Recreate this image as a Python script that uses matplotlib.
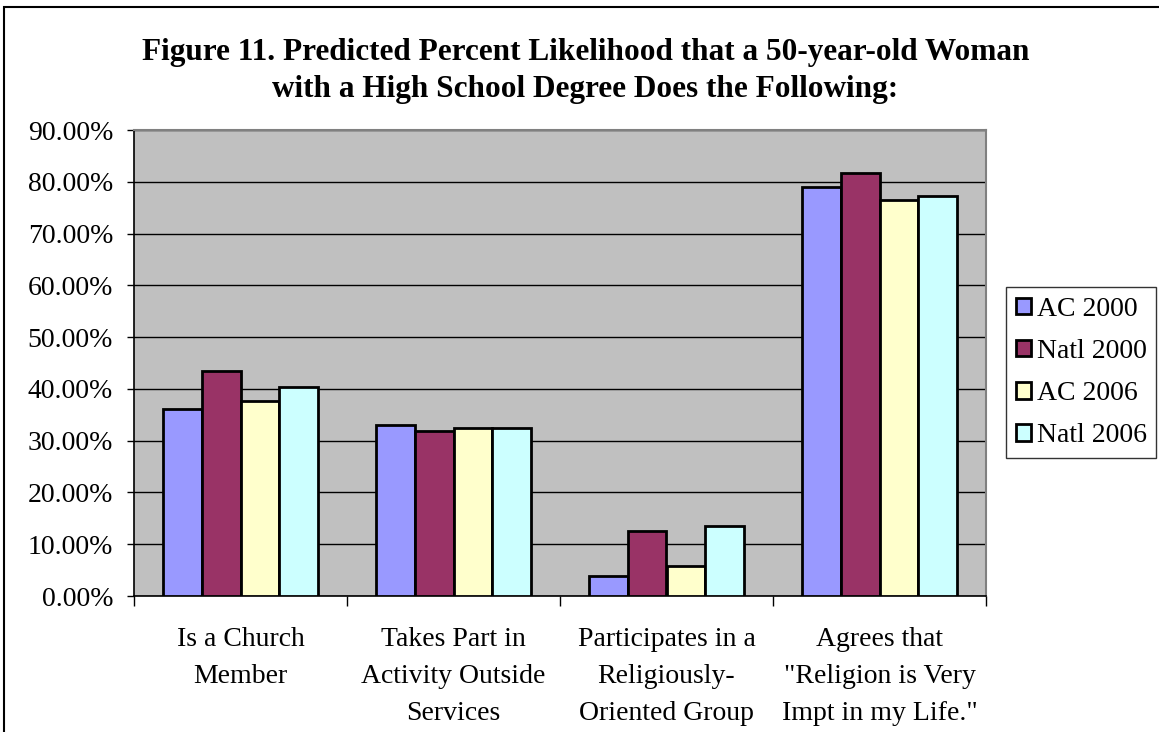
import numpy as np
import matplotlib.pyplot as plt
from matplotlib.patches import Rectangle
from matplotlib.ticker import FuncFormatter, MultipleLocator

categories = [
    "Is a Church\nMember",
    "Takes Part in\nActivity Outside\nServices",
    "Participates in a\nReligiously-\nOriented Group",
    "Agrees that\n\"Religion is Very\nImpt in my Life.\"",
]
series_names = ["AC 2000", "Natl 2000", "AC 2006", "Natl 2006"]
ac_2000 = [36.2, 33.0, 3.8, 79.0]
natl_2000 = [43.5, 31.8, 12.5, 81.7]
ac_2006 = [37.6, 32.4, 5.8, 76.5]
natl_2006 = [40.3, 32.4, 13.5, 77.3]

colors = ["#9999FF", "#993366", "#FFFFCC", "#CCFFFF"]
serif = ["Liberation Serif", "DejaVu Serif"]

W, H = 1159, 732
fig = plt.figure(figsize=(W / 100, H / 100), dpi=100)

# outer chart frame (runs off the right and bottom edges)
fig.patches.append(Rectangle((4 / W, -0.1), 1.2, 1 - 7 / H + 0.1,
                             transform=fig.transFigure, fill=False,
                             edgecolor="black", linewidth=1.5))

ax = fig.add_axes([134 / W, (H - 596) / H, 852 / W, 466 / H])
ax.set_facecolor("#C0C0C0")

x = np.arange(len(categories))
bw = 0.183
for i, (vals, name) in enumerate(zip([ac_2000, natl_2000, ac_2006, natl_2006], series_names)):
    ax.bar(x + (i - 1.5) * bw, vals, width=bw, color=colors[i],
           edgecolor="black", linewidth=2, label=name, zorder=3)

ax.set_xlim(-0.5, len(categories) - 0.5)
ax.set_ylim(0, 90)
ax.yaxis.set_major_locator(MultipleLocator(10))
ax.yaxis.set_major_formatter(FuncFormatter(lambda v, p: f"{v:.2f}%"))
ax.grid(axis="y", color="black", linewidth=1, zorder=1)

ax.set_xticks(np.arange(len(categories) + 1) - 0.5)
ax.set_xticklabels([])
ax.tick_params(axis="x", direction="out", length=7, width=1, color="black")
ax.tick_params(axis="y", direction="out", length=5, width=1, color="black",
               labelsize=20, pad=10)
for lab in ax.get_yticklabels():
    lab.set_family(serif)

for i, cat in enumerate(categories):
    ax.text(i, -6.0, cat, ha="center", va="top", fontsize=20,
            family=serif, linespacing=1.62)

for side in ["top", "right"]:
    ax.spines[side].set_color("#808080")
    ax.spines[side].set_linewidth(1.5)
for side in ["left", "bottom"]:
    ax.spines[side].set_color("black")
    ax.spines[side].set_linewidth(1.2)

leg = ax.legend(loc="upper left", bbox_to_anchor=(1006 / W, 1 - 287 / H),
                bbox_transform=fig.transFigure, frameon=True, fancybox=False,
                prop={"family": serif, "size": 20}, handlelength=0.55,
                handleheight=0.55, handletextpad=0.2, labelspacing=0.62,
                borderpad=0.35, borderaxespad=0)
leg.get_frame().set_edgecolor("black")
leg.get_frame().set_linewidth(1)

fig.text(0.505, 1 - 71 / H, "Figure 11. Predicted Percent Likelihood that a 50-year-old Woman\n"
         "with a High School Degree Does the Following:",
         ha="center", va="center", fontsize=22.5, fontweight="bold",
         family=serif, linespacing=1.38)

fig.savefig("out.png", dpi=100)
